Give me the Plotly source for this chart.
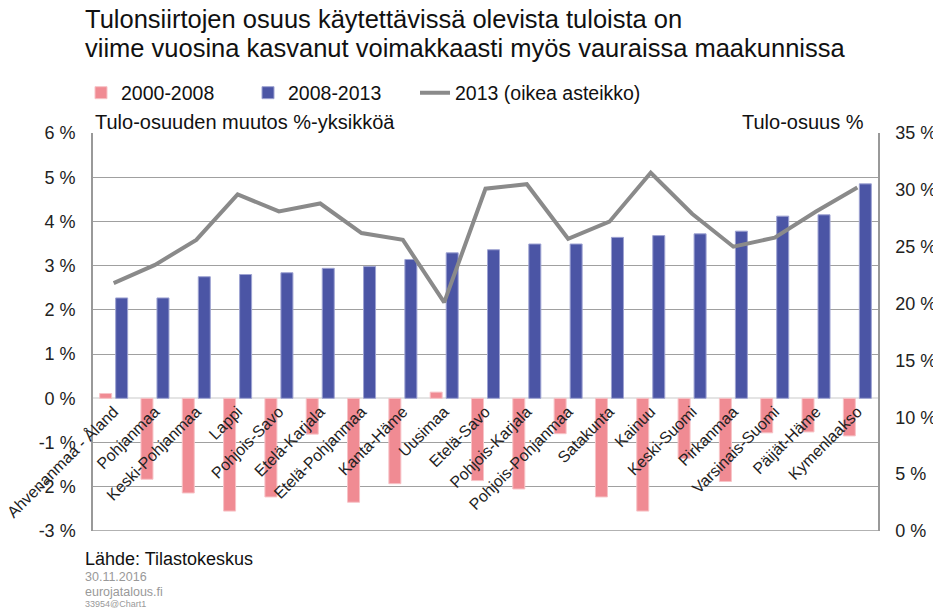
import plotly.graph_objects as go

regions = [
    "Ahvenanmaa - Åland", "Pohjanmaa", "Keski-Pohjanmaa", "Lappi", "Pohjois-Savo",
    "Etelä-Karjala", "Etelä-Pohjanmaa", "Kanta-Häme", "Uusimaa", "Etelä-Savo",
    "Pohjois-Karjala", "Pohjois-Pohjanmaa", "Satakunta", "Kainuu", "Keski-Suomi",
    "Pirkanmaa", "Varsinais-Suomi", "Päijät-Häme", "Kymenlaakso",
]
change_2000_2008 = [0.11, -1.83, -2.14, -2.55, -2.23, -0.81, -2.35, -1.93, 0.14, -1.86,
                    -2.05, -0.80, -2.23, -2.55, -1.36, -1.88, -0.78, -0.76, -0.85]
change_2008_2013 = [2.27, 2.27, 2.75, 2.80, 2.84, 2.94, 2.98, 3.14, 3.29, 3.36,
                    3.49, 3.49, 3.64, 3.68, 3.72, 3.78, 4.12, 4.15, 4.85]
share_2013 = [21.8, 23.4, 25.6, 29.6, 28.1, 28.8, 26.2, 25.6, 20.1, 30.1,
              30.5, 25.7, 27.2, 31.5, 27.9, 25.0, 25.8, 28.1, 30.2]

left_ticks = [-3, -2, -1, 0, 1, 2, 3, 4, 5, 6]
left_labels = [f"{v} %" for v in left_ticks]
right_ticks = [0, 5, 10, 15, 20, 25, 30, 35]
right_labels = [f"{v} %" for v in right_ticks]

FONT = "Liberation Sans, Arial, sans-serif"

# the page body adds an 8px margin, so the figure is drawn 8px smaller
OFF = 8
W, H = 941 - OFF, 614 - OFF
# plot area in screen pixels
PL, PR, PT, PB = 93, 878, 133, 531


def px_x(x):
    return (x - PL) / (PR - PL)


def px_y(y):
    return (PB - y) / (PB - PT)


fig = go.Figure()
fig.add_trace(go.Bar(
    x=regions, y=change_2000_2008, name="2000-2008", legend="legend",
    marker=dict(color="#f08b93", line=dict(color="#f7c3c7", width=1)),
))
fig.add_trace(go.Bar(
    x=regions, y=change_2008_2013, name="2008-2013", legend="legend2",
    marker=dict(color="#4b55a5", line=dict(color="#9ea3d2", width=1)),
))
fig.add_trace(go.Scatter(
    x=regions, y=share_2013, name="2013 (oikea asteikko)", yaxis="y2", legend="legend3",
    mode="lines", line=dict(color="#8a8a8a", width=4),
))

# frame line at the bottom of the plot area
fig.add_shape(type="line", xref="paper", yref="y", x0=0, x1=1, y0=-3, y1=-3,
              line=dict(color="#999999", width=1.5))

legend_style = dict(
    orientation="h", xanchor="left", y=px_y(93), yanchor="middle",
    font=dict(size=19.5, color="#111111"), itemwidth=30,
)

fig.update_layout(
    width=W, height=H,
    margin=dict(l=PL - OFF, r=941 - PR, t=PT - OFF, b=614 - PB),
    paper_bgcolor="white", plot_bgcolor="white",
    font=dict(family=FONT, color="#222222"),
    barmode="group", bargap=0.225, bargroupgap=0.25,
    showlegend=True,
    legend=dict(x=px_x(81), **legend_style),
    legend2=dict(x=px_x(248), **legend_style),
    legend3=dict(x=px_x(415), **legend_style),
    xaxis=dict(
        type="category", anchor="free", position=1 / 3,
        showline=False, showgrid=False, ticks="",
        tickangle=-45, tickfont=dict(size=16, color="#222222"),
        automargin=False,
    ),
    yaxis=dict(
        range=[-3, 6], tickvals=left_ticks, ticktext=left_labels,
        showgrid=True, gridcolor="#a0a0a0", gridwidth=1,
        zeroline=True, zerolinecolor="#e4e4e4", zerolinewidth=2,
        showline=True, linecolor="#999999", linewidth=1.5,
        tickfont=dict(size=18, color="#222222"), ticks="",
        ticklabelstandoff=12,
        automargin=False,
    ),
    yaxis2=dict(
        range=[0, 35], tickvals=right_ticks, ticktext=right_labels,
        overlaying="y", side="right", showgrid=False, zeroline=False,
        showline=True, linecolor="#999999", linewidth=1.5,
        tickfont=dict(size=18, color="#222222"), ticks="",
        ticklabelstandoff=12,
        automargin=False,
    ),
)

# texts placed by their screen position (x, y centre)
annotations = [
    dict(text="Tulonsiirtojen osuus käytettävissä olevista tuloista on", x=83, y=19, size=25.5, color="#111111", anchor="left"),
    dict(text="viime vuosina kasvanut voimakkaasti myös vauraissa maakunnissa", x=83, y=48, size=25.5, color="#111111", anchor="left"),
    dict(text="Tulo-osuuden muutos %-yksikköä", x=93, y=122, size=20, color="#111111", anchor="left"),
    dict(text="Tulo-osuus %", x=866, y=122, size=20, color="#111111", anchor="right"),
    dict(text="Lähde: Tilastokeskus", x=83, y=559, size=18, color="#111111", anchor="left"),
    dict(text="30.11.2016", x=83, y=577, size=12.5, color="#999999", anchor="left"),
    dict(text="eurojatalous.fi", x=83, y=592, size=12.5, color="#999999", anchor="left"),
    dict(text="33954@Chart1", x=83, y=604, size=9, color="#999999", anchor="left"),
]
for a in annotations:
    fig.add_annotation(
        text=a["text"], xref="paper", yref="paper",
        x=px_x(a["x"]), y=px_y(a["y"]),
        xanchor=a["anchor"], yanchor="middle", showarrow=False,
        font=dict(size=a["size"], color=a["color"], family=FONT),
    )

fig.write_html("out.html")
